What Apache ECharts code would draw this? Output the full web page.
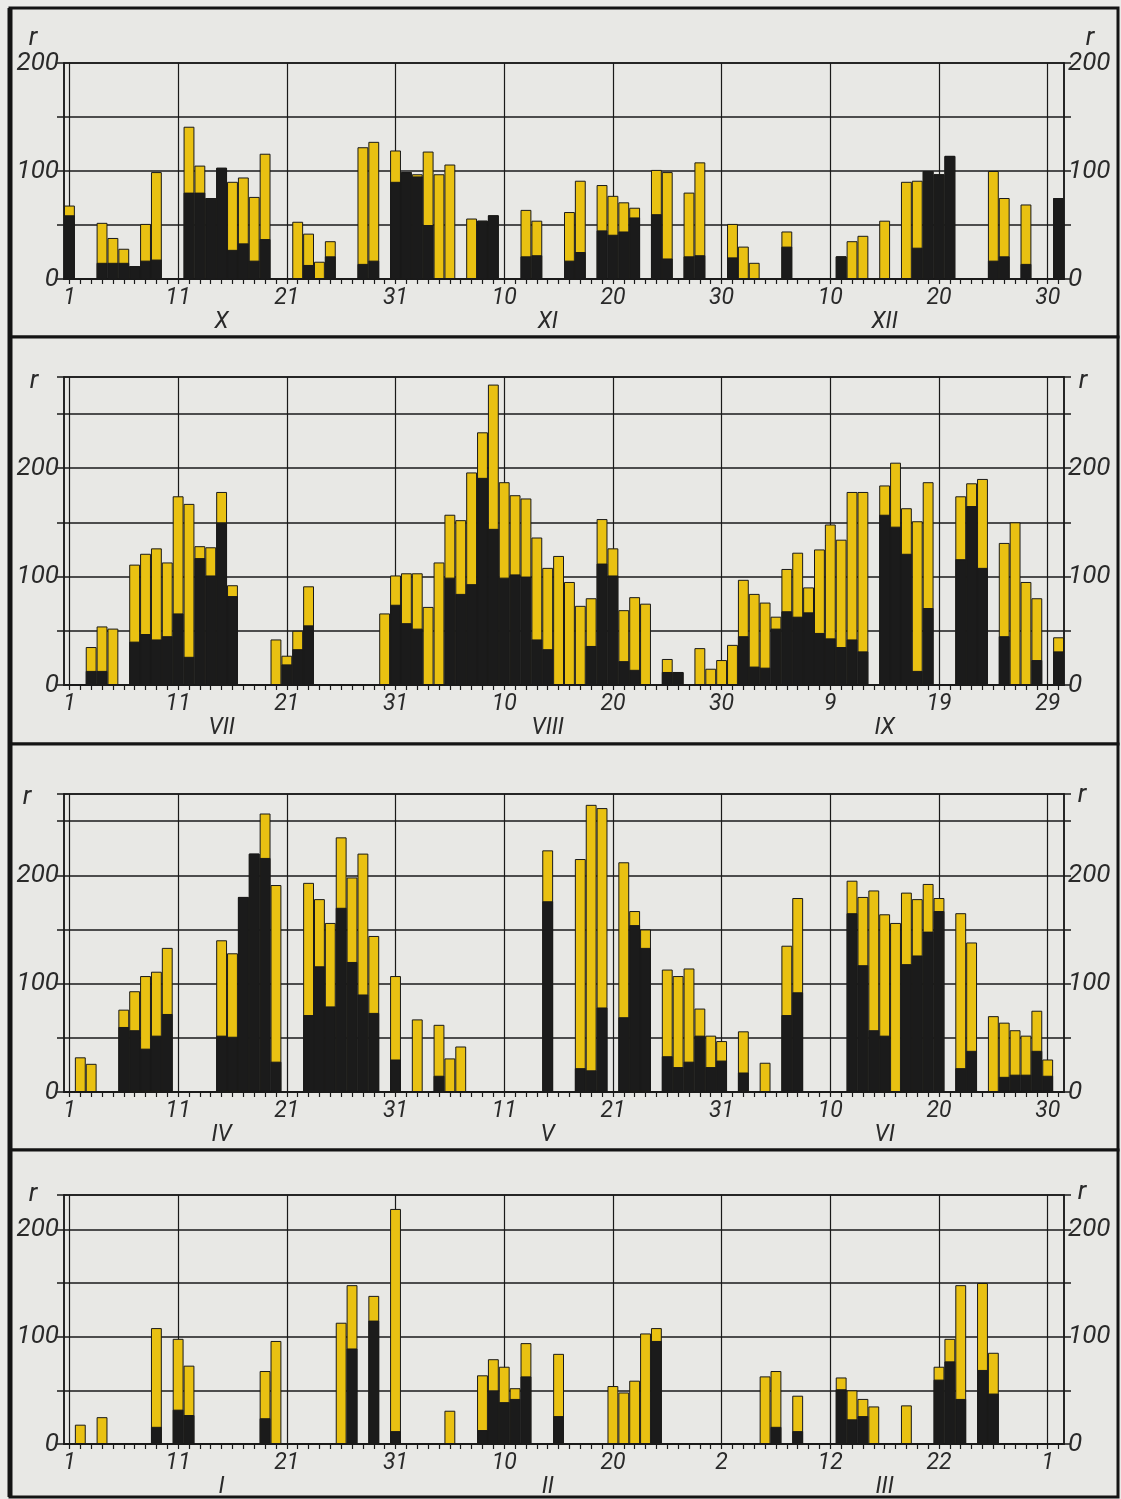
<!DOCTYPE html>
<html><head><meta charset="utf-8">
<script src="https://cdn.jsdelivr.net/npm/echarts@6/dist/echarts.min.js"></script>
<style>html,body{margin:0;padding:0;background:#e9e9e6;} #c{width:1121px;height:1499px;}</style>
</head><body><div id="c"></div>
<script>
// ---- categories (day slots) ----
const DAYS = Array.from({length:92}, (_, i) => String(i + 1));
const GRID_DAYS = ['1','11','21','31','41','51','61','71','81','91'];
const MONTH_DAYS = ['15','45','76'];
const Y_LABELS = [0, 100, 200];

// ---- panel 1: X–XII ----
const P1_TICKS = ['1','11','21','31','10','20','30','10','20','30'];
const P1_MONTHS = ['X','XI','XII'];
const P1_TOTAL = [68,null,null,52,38,28,12,51,99,null,
  null,141,105,75,103,90,94,76,116,null,
  null,53,42,16,35,null,null,122,127,null,
  119,99,97,118,97,106,null,56,54,59,
  null,null,64,54,null,null,62,91,null,87,
  77,71,66,null,101,99,null,80,108,null,
  null,51,30,15,null,null,44,null,null,null,
  null,21,35,40,null,54,null,90,91,100,
  97,114,null,null,null,100,75,null,69,null,
  null,75];
const P1_BLACK = [59,null,null,15,15,15,12,17,18,null,
  null,80,80,75,103,27,33,17,37,null,
  null,0,13,0,21,null,null,14,17,null,
  90,99,95,50,0,0,null,0,54,59,
  null,null,21,22,null,null,17,25,null,45,
  41,44,57,null,60,19,null,21,22,null,
  null,20,0,0,null,null,30,null,null,null,
  null,21,0,0,null,0,null,0,29,100,
  97,114,null,null,null,17,21,null,14,null,
  null,75];

// ---- panel 2: VII–IX ----
const P2_TICKS = ['1','11','21','31','10','20','30','9','19','29'];
const P2_MONTHS = ['VII','VIII','IX'];
const P2_TOTAL = [null,null,35,54,52,null,111,121,126,113,
  174,167,128,127,178,92,null,null,null,42,
  27,50,91,null,null,null,null,null,null,66,
  101,103,103,72,113,157,152,196,233,277,
  187,175,172,136,108,119,95,73,80,153,
  126,69,81,75,null,24,12,null,34,15,
  23,37,97,84,76,63,107,122,90,125,
  148,134,178,178,null,184,205,163,151,187,
  null,null,174,186,190,null,131,150,95,80,
  null,44];
const P2_BLACK = [null,null,13,13,0,null,40,47,42,45,
  66,26,117,101,150,82,null,null,null,0,
  19,33,55,null,null,null,null,null,null,0,
  74,57,52,0,0,99,84,93,191,144,
  99,102,100,42,33,0,0,0,36,112,
  101,22,14,0,null,12,12,null,0,0,
  0,0,45,17,16,52,68,63,67,48,
  43,35,42,31,null,157,146,121,13,71,
  null,null,116,165,108,null,45,0,0,23,
  null,31];

// ---- panel 3: IV–VI ----
const P3_TICKS = ['1','11','21','31','11','21','31','10','20','30'];
const P3_MONTHS = ['IV','V','VI'];
const P3_TOTAL = [null,32,26,null,null,76,93,107,111,133,
  null,null,null,null,140,128,180,220,257,191,
  null,null,193,178,156,235,198,220,144,null,
  107,null,67,null,62,31,42,null,null,null,
  null,null,null,null,223,null,null,215,265,262,
  null,212,167,150,null,113,107,114,77,52,
  47,null,56,null,27,null,135,179,null,null,
  null,null,195,180,186,164,156,184,178,192,
  179,null,165,138,null,70,64,57,52,75,
  30,null];
const P3_BLACK = [null,0,0,null,null,60,57,40,52,72,
  null,null,null,null,52,51,180,220,216,28,
  null,null,71,116,79,170,120,90,73,null,
  30,null,0,null,15,0,0,null,null,null,
  null,null,null,null,176,null,null,22,20,78,
  null,69,154,133,null,33,23,28,52,23,
  29,null,18,null,0,null,71,92,null,null,
  null,null,165,117,57,52,0,118,126,148,
  167,null,22,38,null,0,14,16,16,38,
  15,null];

// ---- panel 4: I–III ----
const P4_TICKS = ['1','11','21','31','10','20','2','12','22','1'];
const P4_MONTHS = ['I','II','III'];
const P4_TOTAL = [null,18,null,25,null,null,null,null,108,null,
  98,73,null,null,null,null,null,null,68,96,
  null,null,null,null,null,113,148,null,138,null,
  219,null,null,null,null,31,null,null,64,79,
  72,52,94,null,null,84,null,null,null,null,
  54,48,59,103,108,null,null,null,null,null,
  null,null,null,null,63,68,null,45,null,null,
  null,62,50,42,35,null,null,36,null,null,
  72,98,148,null,150,85,null,null,null,null,
  null,null];
const P4_BLACK = [null,0,null,0,null,null,null,null,16,null,
  32,27,null,null,null,null,null,null,24,0,
  null,null,null,null,null,0,89,null,115,null,
  12,null,null,null,null,0,null,null,13,50,
  39,42,63,null,null,26,null,null,null,null,
  0,0,0,0,96,null,null,null,null,null,
  null,null,null,null,0,16,null,12,null,null,
  null,51,23,26,0,null,null,0,null,null,
  60,77,42,null,69,47,null,null,null,null,
  null,null];

const YELLOW = '#e9c112', BLACK = '#1b1b1b', INK = '#1a1a1a', BG = '#e8e8e5';
const FONT = {fontFamily: 'Roboto, "DejaVu Sans", sans-serif', fontStyle: 'italic', fontWeight: 'normal', color: '#2a2a2a'};

const panels = [
  {top: 63,   height: 216, max: 200, total: P1_TOTAL, black: P1_BLACK, ticks: P1_TICKS, months: P1_MONTHS},
  {top: 377,  height: 308, max: 284, total: P2_TOTAL, black: P2_BLACK, ticks: P2_TICKS, months: P2_MONTHS},
  {top: 794,  height: 298, max: 275, total: P3_TOTAL, black: P3_BLACK, ticks: P3_TICKS, months: P3_MONTHS},
  {top: 1195, height: 250, max: 232, total: P4_TOTAL, black: P4_BLACK, ticks: P4_TICKS, months: P4_MONTHS}
];

const grid = [], xAxis = [], yAxis = [], series = [];
panels.forEach((p, i) => {
  grid.push({left: 64, width: 1000, top: p.top, height: p.height, show: true,
    borderColor: INK, borderWidth: 1.5, backgroundColor: 'transparent'});
  xAxis.push({type: 'category', gridIndex: i, data: DAYS, boundaryGap: true, position: 'bottom',
    axisLine: {show: true, onZero: false, lineStyle: {color: INK, width: 2}},
    axisTick: {show: true, alignWithLabel: true, interval: 0, length: 5, lineStyle: {color: INK, width: 1.2}},
    axisLabel: Object.assign({interval: (idx) => idx % 10 === 0,
      formatter: (v, idx) => p.ticks[Math.round(idx / 10)], margin: 8, fontSize: 23}, FONT),
    splitLine: {show: false}});
  xAxis.push({type: 'category', gridIndex: i, data: DAYS, boundaryGap: true, position: 'bottom',
    axisLine: {show: false}, axisTick: {show: false}, splitLine: {show: false},
    axisLabel: Object.assign({interval: (idx) => MONTH_DAYS.indexOf(DAYS[idx]) >= 0,
      formatter: (v) => p.months[MONTH_DAYS.indexOf(v)], margin: 32, fontSize: 23}, FONT)});
  const yBase = {type: 'value', gridIndex: i, min: 0, max: p.max, interval: 50,
    axisLine: {show: true, lineStyle: {color: INK, width: 1.5}},
    axisTick: {show: true, length: 7, lineStyle: {color: INK, width: 1.5}}};
  yAxis.push(Object.assign({}, yBase, {position: 'left',
    axisLabel: Object.assign({formatter: v => Y_LABELS.indexOf(v) >= 0 ? String(v) : '', margin: 5, fontSize: 26}, FONT),
    splitLine: {show: true, lineStyle: {color: INK, width: 1.5}}}));
  yAxis.push(Object.assign({}, yBase, {position: 'right',
    axisLabel: Object.assign({formatter: v => Y_LABELS.indexOf(v) >= 0 ? String(v) : '', margin: 4, fontSize: 26}, FONT),
    splitLine: {show: false}}));
  series.push({type: 'bar', xAxisIndex: 2 * i, yAxisIndex: 2 * i, data: p.total,
    barCategoryGap: '0%', barGap: '-100%', z: 3, silent: true,
    itemStyle: {color: YELLOW, borderColor: INK, borderWidth: 1},
    markLine: {silent: true, symbol: ['none', 'none'], z: 2, animation: false, label: {show: false},
      lineStyle: {color: INK, width: 1.2, type: 'solid'},
      data: GRID_DAYS.map(d => ({xAxis: d}))}});
  series.push({type: 'bar', xAxisIndex: 2 * i, yAxisIndex: 2 * i, data: p.black,
    barCategoryGap: '0%', barGap: '-100%', z: 4, silent: true,
    itemStyle: {color: BLACK, borderColor: INK, borderWidth: 1}});
});

const rText = (x, y) => ({type: 'text', x: x, y: y, z: 10,
  style: {text: 'r', font: 'italic 26px Roboto, "DejaVu Sans", sans-serif', fill: '#2a2a2a', align: 'center', verticalAlign: 'middle'}});
const frame = (y, h) => ({type: 'rect', z: -10, shape: {x: 10, y: y, width: 1108, height: h},
  style: {fill: BG, stroke: '#141414', lineWidth: 3}});

const chart = echarts.init(document.getElementById('c'), null, {renderer: 'canvas'});
chart.setOption({
  animation: false,
  backgroundColor: '#ebebe8',
  graphic: [
    frame(8, 329), frame(337, 407), frame(744, 406), frame(1150, 347),
    {type: 'line', z: -9, shape: {x1: 10, y1: 8, x2: 10, y2: 1497}, style: {stroke: '#141414', lineWidth: 5}},
    rText(33, 38), rText(1090, 38),
    rText(34, 381), rText(1083, 381),
    rText(27, 797), rText(1082, 795),
    rText(33, 1194), rText(1082, 1192)
  ],
  grid: grid, xAxis: xAxis, yAxis: yAxis, series: series
});
</script></body></html>
